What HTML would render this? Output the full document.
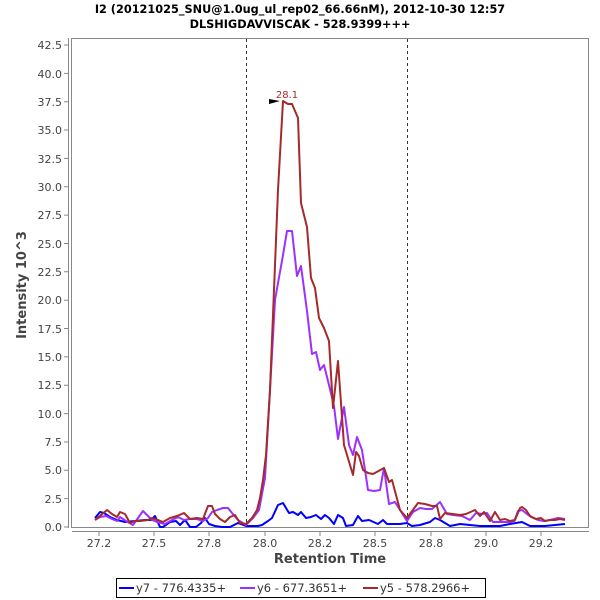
<!DOCTYPE html>
<html><head><meta charset="utf-8"><style>body{margin:0;background:#fff}svg{display:block}</style></head><body>
<svg width="600" height="600" xmlns="http://www.w3.org/2000/svg" font-family="'DejaVu Sans','Liberation Sans',sans-serif">
<rect width="600" height="600" fill="#fff"/>
<text x="300" y="13" text-anchor="middle" font-size="11.3" font-weight="bold">I2 (20121025_SNU@1.0ug_ul_rep02_66.66nM), 2012-10-30 12:57</text>
<text x="300" y="28" text-anchor="middle" font-size="11.3" font-weight="bold">DLSHIGDAVVISCAK - 528.9399+++</text>
<rect x="71.5" y="38.5" width="517" height="489" fill="#fff" stroke="#888" stroke-width="1"/>
<line x1="68.5" y1="38" x2="68.5" y2="528" stroke="#888"/>
<line x1="72" y1="531.5" x2="589" y2="531.5" stroke="#888"/>
<g font-size="11" fill="#444" text-anchor="end">
<text x="62" y="531">0.0</text><text x="62" y="503">2.5</text><text x="62" y="474">5.0</text><text x="62" y="446">7.5</text><text x="62" y="418">10.0</text><text x="62" y="389">12.5</text><text x="62" y="361">15.0</text><text x="62" y="333">17.5</text><text x="62" y="304">20.0</text><text x="62" y="276">22.5</text><text x="62" y="248">25.0</text><text x="62" y="219">27.5</text><text x="62" y="191">30.0</text><text x="62" y="163">32.5</text><text x="62" y="134">35.0</text><text x="62" y="106">37.5</text><text x="62" y="78">40.0</text><text x="62" y="49">42.5</text>
</g>
<g stroke="#888">
<path d="M64 527H68M64 498.6H68M64 470.3H68M64 442H68M64 413.6H68M64 385.2H68M64 356.9H68M64 328.5H68M64 300.2H68M64 271.8H68M64 243.5H68M64 215.1H68M64 186.8H68M64 158.4H68M64 130H68M64 101.7H68M64 73.4H68M64 45H68"/>
<path d="M99 532V536M154 532V536M209 532V536M265 532V536M320 532V536M375 532V536M431 532V536M486 532V536M541 532V536"/>
</g>
<g font-size="11" fill="#444" text-anchor="middle">
<text x="99" y="547">27.2</text><text x="154" y="547">27.5</text><text x="209" y="547">27.8</text><text x="265" y="547">28.0</text><text x="320" y="547">28.2</text><text x="375" y="547">28.5</text><text x="431" y="547">28.8</text><text x="486" y="547">29.0</text><text x="541" y="547">29.2</text>
</g>
<text x="330" y="563" text-anchor="middle" font-size="13" font-weight="bold" fill="#444">Retention Time</text>
<text transform="translate(26,285) rotate(-90)" text-anchor="middle" font-size="13" font-weight="bold" fill="#444">Intensity 10^3</text>
<g stroke="#333" stroke-dasharray="3,3"><line x1="246.5" y1="39" x2="246.5" y2="527"/><line x1="407.5" y1="39" x2="407.5" y2="527"/></g>
<g fill="none" stroke-width="2" stroke-linejoin="round">
<polyline stroke="#0000ff" points="95,518 100,512 104,513 110,517 117,520 125,522 135,521 145,520 151,520 155,516 160,527 163,527 170,522 176,521 180,525 185,520 190,527 196,527 201,523 205,518 209,524 215,526 222,527 230,527 238,523 246,526 258,526 262,525 268,521 272,518 278,505 283,503 289,513 293,512 298,515 301,512 306,518 311,517 316,515 321,519 325,515 329,518 334,524 338,515 343,518 346,526 353,525 358,516 362,521 369,520 378,524 383,520 387,524 400,524 407,523 412,526 420,525 430,522 435,518 440,520 450,526 460,524 470,525 480,526 500,526 510,524 522,522 530,526 545,526 565,524"/>
<polyline stroke="#9b30ff" points="95,520 100,517 106,516 112,519 117,521 120,517 126,521 133,525 138,518 143,511 148,516 152,520 157,522 165,524 172,520 178,517 184,520 190,519 197,519 203,521 208,518 212,512 217,510 223,508 228,508 232,513 238,520 246,525 253,518 259,510 265,478 270,390 275,300 283,255 287,231 292,231 297,276 301,266 307,311 312,354 316,352 320,370 324,365 329,385 334,406 338,439 344,407 349,445 353,455 357,437 362,450 368,490 374,491 380,490 384,468 389,504 395,502 400,510 407,521 413,512 420,508 426,509 432,509 440,502 447,514 453,515 462,516 470,520 476,513 482,514 487,513 493,522 500,522 508,522 514,522 518,511 522,510 527,514 531,517 538,520 544,521 550,520 558,518 565,519"/>
<polyline stroke="#a52a2a" points="95,520 101,515 107,510 112,514 117,517 120,512 125,514 130,523 135,521 140,521 148,520 152,518 158,520 163,522 170,518 177,516 184,513 190,519 197,518 203,519 208,506 212,506 215,514 220,519 225,522 230,517 235,515 240,523 246,524 252,518 257,510 260,498 263,480 266,455 270,390 274,290 278,190 283,101 288,104 292,104 298,118 301,203 307,227 311,278 315,288 319,318 324,328 329,341 333,408 338,361 344,445 353,475 356,452 359,456 363,470 368,473 373,474 384,468 389,482 392,480 400,510 407,518 418,503 425,504 432,506 437,506 440,519 445,513 460,515 466,514 475,510 480,516 484,512 490,521 495,512 500,520 505,519 510,521 515,520 520,508 522,507 526,510 530,516 536,519 541,518 545,521 550,520 555,520 560,519 565,520"/>
</g>
<polygon points="269,99 280,101 269,104" fill="#000"/>
<text x="287" y="98" text-anchor="middle" font-size="10" fill="#a52a2a">28.1</text>
<rect x="116.5" y="578.5" width="369" height="19" fill="#fff" stroke="#000"/>
<g font-size="11.5" fill="#333">
<line x1="119" y1="588" x2="134" y2="588" stroke="#0000ff" stroke-width="2"/><text x="136" y="592">y7 - 776.4335+</text>
<line x1="240" y1="588" x2="255" y2="588" stroke="#9b30ff" stroke-width="2"/><text x="257" y="592">y6 - 677.3651+</text>
<line x1="363" y1="588" x2="378" y2="588" stroke="#a52a2a" stroke-width="2"/><text x="380" y="592">y5 - 578.2966+</text>
</g>
</svg>
</body></html>
